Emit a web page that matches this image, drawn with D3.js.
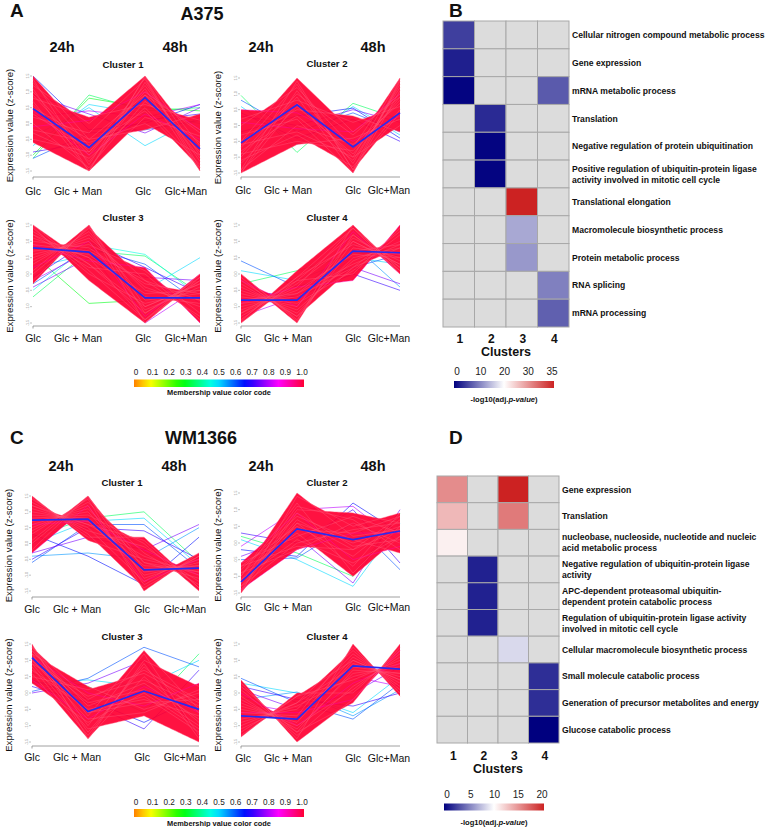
<!DOCTYPE html>
<html><head><meta charset="utf-8">
<script src="https://cdn.jsdelivr.net/npm/d3@7"></script>
<style>
body{margin:0;background:#fff;}
svg{display:block;font-family:"Liberation Sans",Arial,sans-serif;}
</style>
</head><body>
<svg id="c" width="770" height="827"></svg>
<script>
// ---------------- DATA ----------------
const timeLabels = ["Glc", "Glc + Man", "Glc", "Glc+Man"];
const hourLabels = ["24h", "48h"];
const yTicks = [-1.5, -1.0, -0.5, 0.0, 0.5, 1.0, 1.5];
const membershipTicks = [0, 0.1, 0.2, 0.3, 0.4, 0.5, 0.6, 0.7, 0.8, 0.9, 1.0];
const clusterNames = ["Cluster 1", "Cluster 2", "Cluster 3", "Cluster 4"];

// centroids: [Glc24, Glc+Man24, Glc48, Glc+Man48]
const a375Centroids = [
  [0.47, -0.76, 0.82, -0.8],
  [-0.55, 0.65, -0.68, 0.4],
  [0.8, 0.67, -0.73, -0.73],
  [-0.8, -0.8, 0.7, 0.65]
];
const wm1366Centroids = [
  [0.74, 0.77, -0.83, -0.78],
  [-1.17, 0.42, 0.1, 0.36],
  [1.08, -0.57, 0.06, -0.5],
  [-0.7, -0.8, 0.83, 0.73]
];

// gene profiles: [membership, Glc24, Glc+Man24, Glc48, Glc+Man48]
const a375Cluster1 = [
  [1,1.4,-1.3,1.45,-1.4],[1,1.1,-1.5,1.3,-1.2],[1,0.9,-1.0,1.1,-1.5],[1,0.6,-1.2,0.9,-0.9],
  [1,0.3,-0.8,1.2,-1.1],[1,0.0,-1.4,0.7,-0.6],[1,-0.3,-1.1,0.5,-1.3],[1,-0.6,-1.5,0.2,-0.4],
  [1,1.5,-0.5,0.9,-0.2],[1,1.2,0.0,1.5,-0.7],[1,0.8,0.2,0.6,0.1],[1,0.2,-0.3,1.4,-1.5],
  [1,-0.2,-0.6,0.0,-1.0],[1,0.5,-0.5,-0.2,0.3],[1,1.0,-0.9,1.0,-0.3],[1,0.7,-1.5,1.5,-1.0],
  [1,-0.5,-0.9,0.8,-0.8],[1,1.3,-0.7,0.4,-1.4],[0.9,0.4,-1.0,0.3,-0.5],[0.9,-0.1,0.1,1.0,-0.2],
  [0.7,-0.9,-0.6,0.1,0.3],[0.6,-1.1,-0.3,-0.2,0.1],[0.5,-0.7,0.6,0.3,0.0],[0.35,-1.1,0.9,0.4,0.5],
  [0.3,-1.0,0.8,0.5,0.4],[0.65,1.5,-0.2,0.0,0.6],[0.75,0.9,0.3,-0.3,0.5],[0.5,-0.4,0.5,-0.7,0.2],
  [0.8,0.2,0.4,0.2,0.6]
];
const a375Cluster2 = [
  [1,-1.4,1.4,-1.4,1.45],[1,-1.5,1.1,-1.2,1.3],[1,-1.0,0.9,-1.5,1.1],[1,-1.2,0.6,-0.9,0.9],
  [1,-0.8,0.3,-1.1,1.2],[1,-1.4,0.0,-0.6,0.7],[1,-1.1,-0.3,-1.3,0.5],[1,-1.5,-0.6,-0.4,0.2],
  [1,-0.5,1.5,-0.2,0.9],[1,0.0,1.2,-0.7,1.5],[1,0.2,0.8,0.1,0.6],[1,-0.3,0.2,-1.5,1.4],
  [1,-0.6,-0.2,-1.0,0.0],[1,-0.5,0.5,0.3,-0.2],[1,-0.9,1.0,-0.3,1.0],[1,-1.5,0.7,-1.0,1.5],
  [1,-0.9,-0.5,-0.8,0.8],[1,-0.7,1.3,-1.4,0.4],[0.9,0.5,0.4,-0.5,0.3],[0.9,0.1,-0.1,-0.2,1.0],
  [0.35,0.95,-0.85,0.7,0.2],[0.5,0.6,-0.6,0.6,-0.3],[0.7,0.4,-0.4,0.2,-0.5],[0.6,0.8,-0.2,0.4,-0.2],
  [0.75,0.3,0.0,0.5,0.1],[0.65,-0.2,0.3,0.55,-0.4]
];
const a375Cluster3 = [
  [1,1.5,0.1,-1.4,0.0],[1,1.3,0.3,-1.0,-0.3],[1,1.1,0.5,-0.6,-0.5],[1,0.9,0.7,-0.2,-0.8],
  [1,0.7,0.9,0.1,-1.2],[1,0.5,1.1,-0.4,-1.0],[1,0.3,1.3,-0.8,-0.6],[1,0.1,1.5,-1.2,-0.2],
  [1,-0.2,1.45,-1.5,0.0],[1,1.45,-0.2,-1.5,-0.1],[1,1.2,0.2,0.0,-1.4],[1,0.8,0.6,-0.7,-0.9],
  [1,1.0,0.8,-0.3,-0.6],[1,0.6,1.0,-1.1,-0.4],[1,0.4,1.2,-0.5,-0.8],[1,1.4,0.0,-0.9,-0.5],
  [1,-0.3,1.5,-1.0,-0.3],[1,1.5,0.3,-1.2,-0.1],[0.9,0.2,1.0,-1.3,0.0],[0.9,0.9,0.4,0.2,-1.5],
  [1,0.0,1.4,-0.2,-1.3],[1,1.2,0.5,-1.4,-0.2],
  [0.35,-0.7,0.7,0.55,-0.6],[0.3,0.6,-0.9,-0.8,-0.5],[0.45,-0.5,0.9,0.6,-0.7],[0.6,-0.3,0.8,0.3,-0.9],
  [0.7,-0.1,1.0,0.2,-0.6],[0.75,-0.4,0.5,-0.1,-0.2],[0.5,0.2,0.6,-0.5,0.5],[0.8,-0.2,0.7,-1.5,-0.4]
];
const a375Cluster4 = [
  [1,-1.5,-0.1,1.4,0.0],[1,-1.3,-0.3,1.0,0.3],[1,-1.1,-0.5,0.6,0.5],[1,-0.9,-0.7,0.2,0.8],
  [1,-0.7,-0.9,0.1,1.2],[1,-0.5,-1.1,0.4,1.0],[1,-0.3,-1.3,0.8,0.6],[1,-0.1,-1.5,1.2,0.2],
  [1,0.0,-1.45,1.5,0.0],[1,-1.45,0.1,1.5,0.1],[1,-1.2,-0.2,0.0,1.4],[1,-0.8,-0.6,0.7,0.9],
  [1,-1.0,-0.6,0.3,0.9],[1,-0.6,-1.0,1.1,0.4],[1,-0.4,-1.2,0.5,0.8],[1,-1.4,-0.1,0.9,0.5],
  [1,0.0,-1.4,1.0,0.3],[1,-1.5,-0.2,1.2,0.1],[0.9,-0.2,-1.0,1.3,0.0],[0.9,-0.9,-0.4,-0.2,1.5],
  [1,-0.2,-1.3,0.2,1.3],[1,-1.2,-0.4,1.4,0.2],
  [0.6,0.4,-0.4,0.2,0.6],[0.5,0.1,-0.2,0.5,0.3],[0.35,-0.3,0.1,0.6,0.8],[0.7,-0.5,-0.7,0.0,-0.5],
  [0.55,-1.0,-0.6,0.9,-0.4],[0.75,-0.8,-0.9,0.2,-0.3],[0.8,-1.3,-0.7,0.5,1.0]
];
const wm1366Cluster1 = [
  [1,1.45,0.2,0.2,-1.4],[1,1.3,0.4,-0.1,-1.2],[1,1.1,0.6,-0.4,-1.0],[1,0.9,0.8,-0.7,-0.8],
  [1,0.7,1.0,-1.0,-0.6],[1,0.5,1.2,-1.3,-0.4],[1,0.3,1.4,-1.5,-0.3],[1,0.1,1.5,-0.8,-0.7],
  [1,-0.2,1.5,-1.1,-0.5],[1,1.5,0.1,-0.5,-0.9],[1,1.2,0.5,-1.2,-0.3],[1,0.8,0.9,0.0,-1.5],
  [1,0.6,1.1,-0.6,-1.1],[1,1.0,0.7,-0.9,-0.7],[1,0.4,1.3,-0.3,-1.3],[1,1.4,0.3,-1.4,-0.4],
  [1,0.0,1.45,-0.6,-0.9],[1,1.2,0.6,0.1,-1.4],[0.9,-0.3,1.2,-1.2,-0.5],[0.9,0.6,0.7,-0.2,-1.0],
  [0.35,0.2,0.8,1.0,-0.6],[0.5,0.0,0.7,0.8,-0.7],[0.6,-0.6,0.6,0.6,-0.8],[0.7,-0.5,0.5,0.4,-0.5],
  [0.75,-0.3,0.2,-0.2,0.6],[0.55,-0.4,-0.3,-0.5,0.5],[0.65,0.3,-0.4,-1.3,0.2]
];
const wm1366Cluster2 = [
  [1,-1.5,1.4,0.5,0.9],[1,-1.4,1.0,0.9,0.6],[1,-1.3,0.7,-0.2,0.4],[1,-1.2,0.4,0.3,0.8],
  [1,-1.1,0.1,-0.6,0.2],[1,-1.0,1.2,-0.9,0.5],[1,-0.9,-0.2,0.6,0.0],[1,-0.8,0.8,0.1,-0.3],
  [1,-0.7,0.5,-0.4,0.7],[1,-0.6,0.2,0.8,0.3],[1,-1.45,0.9,-0.1,0.1],[1,-1.3,0.0,0.4,0.6],
  [1,-1.5,0.6,-0.7,0.9],[1,-1.0,1.5,0.2,0.4],[1,-0.9,0.3,-1.0,0.2],[1,-1.2,1.1,0.7,-0.2],
  [1,-0.7,-0.1,-0.2,0.8],[1,-1.1,0.6,0.0,0.5],[0.9,-0.6,0.9,-0.5,-0.1],[0.9,-1.4,-0.2,0.3,0.3],
  [0.35,0.2,-0.3,-1.0,0.9],[0.5,0.1,-0.5,-1.3,0.6],[0.65,-0.2,-0.4,1.2,0.3],[0.7,0.3,0.0,1.0,-0.6],
  [0.75,-0.4,0.2,-1.2,1.0],[0.6,-0.5,-0.45,0.6,-0.8],[0.8,-0.1,1.0,1.1,0.0]
];
const wm1366Cluster3 = [
  [1,1.5,-1.4,0.5,-0.9],[1,1.4,-1.0,1.2,-1.3],[1,1.3,-0.6,-0.3,-0.2],[1,1.2,-1.2,0.8,-0.6],
  [1,1.1,-0.3,0.1,-1.0],[1,1.0,-0.8,-0.6,0.1],[1,0.9,-0.1,0.4,-0.4],[1,0.8,-1.3,0.9,-1.4],
  [1,0.7,-0.5,-0.2,-0.7],[1,0.5,0.1,0.6,-0.3],[1,0.3,-0.9,0.0,-1.1],[1,1.45,-0.7,1.3,-0.5],
  [1,1.2,0.2,-0.5,0.0],[1,0.9,-1.1,-0.7,-1.5],[1,1.3,-0.4,0.3,-0.8],[1,0.6,-1.4,1.0,0.2],
  [1,1.0,-0.6,-0.1,-1.2],[1,1.4,-0.2,0.7,-0.2],[0.9,0.4,-0.8,0.2,-0.6],[0.9,1.1,0.0,-0.4,0.3],
  [0.6,0.05,0.45,1.4,0.8],[0.7,0.2,-0.3,-1.1,0.7],[0.5,0.3,0.4,0.2,1.0],[0.75,0.0,0.3,1.0,-1.3],
  [0.35,0.6,0.2,-0.6,1.2],[0.65,0.4,-0.2,-0.9,-0.1]
];
const wm1366Cluster4 = [
  [1,0.4,-1.5,-0.2,1.4],[1,0.1,-1.3,0.2,1.1],[1,-0.2,-1.1,0.6,0.8],[1,-0.4,-0.9,1.0,0.4],
  [1,-0.6,-0.7,1.4,0.0],[1,-0.8,-0.5,1.2,0.2],[1,-1.0,-0.3,0.8,0.6],[1,-1.2,-0.1,0.4,1.0],
  [1,-1.35,0.0,0.0,1.3],[1,0.3,-1.4,1.5,-0.1],[1,-0.1,-1.2,-0.3,1.5],[1,-0.5,-0.8,0.9,0.5],
  [1,-0.7,-0.8,1.1,0.3],[1,-0.9,-0.4,0.5,0.9],[1,-1.1,-0.3,1.3,0.1],[1,-0.3,-1.0,0.1,1.2],
  [1,0.2,-1.2,0.7,0.6],[1,-1.3,-0.1,1.0,0.4],[0.9,0.0,-1.0,0.3,0.9],[0.9,-0.6,-0.6,-0.2,1.3],
  [0.6,0.45,-0.3,-0.8,0.3],[0.5,0.3,0.0,-0.6,0.5],[0.7,0.2,-0.2,-0.4,0.0],[0.55,-0.2,0.03,-0.7,0.1],
  [0.75,0.1,-0.5,0.0,0.8],[0.8,-0.3,-0.6,0.5,0.2]
];

// GO enrichment heatmaps: -log10(adj. p-value), null = not enriched
const clusterIds = ["1", "2", "3", "4"];
const a375Terms = [
  "Cellular nitrogen compound metabolic process",
  "Gene expression",
  "mRNA metabolic process",
  "Translation",
  "Negative regulation of protein ubiquitination",
  "Positive regulation of ubiquitin-protein ligase\nactivity involved in mitotic cell cycle",
  "Translational elongation",
  "Macromolecule biosynthetic process",
  "Protein metabolic process",
  "RNA splicing",
  "mRNA processing"
];
const a375Enrichment = [
  [4.3, null, null, null],
  [2.1, null, null, null],
  [0.3, null, null, 6.2],
  [null, 2.9, null, null],
  [null, 0.3, null, null],
  [null, 0.3, null, null],
  [null, null, 35, null],
  [null, null, 11.5, null],
  [null, null, 10.4, null],
  [null, null, null, 8.8],
  [null, null, null, 6.6]
];
const a375LegendTicks = [0, 10, 20, 30, 35];

const wm1366Terms = [
  "Gene expression",
  "Translation",
  "nucleobase, nucleoside, nucleotide and nucleic\nacid metabolic process",
  "Negative regulation of ubiquitin-protein ligase\nactivity",
  "APC-dependent proteasomal ubiquitin-\ndependent protein catabolic process",
  "Regulation of ubiquitin-protein ligase activity\ninvolved in mitotic cell cycle",
  "Cellular macromolecule biosynthetic process",
  "Small molecule catabolic process",
  "Generation of precursor metabolites and energy",
  "Glucose catabolic process"
];
const wm1366Enrichment = [
  [15.2, null, 20, null],
  [13.2, null, 16, null],
  [10.7, null, null, null],
  [null, 1.3, null, null],
  [null, 1.3, null, null],
  [null, 1.3, null, null],
  [null, null, 8.5, null],
  [null, null, null, 1.8],
  [null, null, null, 1.8],
  [null, null, null, 0]
];
const wm1366LegendTicks = [0, 5, 10, 15, 20];

// ---------------- DRAWING ----------------
const svg = d3.select("#c");
const memColor = m => d3.hsl(30 + 318 * m, 1, 0.5).toString();
const BOLD = "bold";

function text(g, x, y, s, size, opts = {}) {
  return g.append("text").attr("x", x).attr("y", y).text(s)
    .attr("font-size", size)
    .attr("font-weight", opts.weight || "normal")
    .attr("text-anchor", opts.anchor || "middle")
    .attr("fill", opts.fill || "#111");
}

function profilePlot(cfg, profiles, centroid, title) {
  const g = svg.append("g");
  const offs = cfg.offs;
  const x = d3.scaleLinear().domain([0, 1, 2, 3]).range(offs.map(o => cfg.x0 + o));
  const y = d3.scaleLinear().domain([-1.5, 1.5]).range([cfg.yBot, cfg.yTop]);
  const line = d3.line().x((d, i) => x(i)).y(d => y(d));

  // low-membership genes first (drawn underneath)
  const low = profiles.filter(p => p[0] < 0.85).sort((a, b) => a[0] - b[0]);
  g.selectAll("path.low").data(low).join("path").attr("class", "low")
    .attr("d", p => line(p.slice(1)))
    .attr("fill", "none").attr("stroke", p => memColor(p[0]))
    .attr("stroke-width", 0.8).attr("stroke-opacity", 0.75);

  // dense mass of high-membership genes
  const core = profiles.filter(p => p[0] >= 0.85);
  const env = [];
  for (let s = 0; s < 3; s++) {
    for (let k = 0; k <= 24; k++) {
      if (s > 0 && k === 0) continue;
      const t = k / 24;
      const vals = core.map(p => p[1 + s] * (1 - t) + p[2 + s] * t);
      env.push({ xi: s + t, lo: d3.min(vals), hi: d3.max(vals) });
    }
  }
  g.append("path").datum(env)
    .attr("d", d3.area().x(d => x(d.xi)).y0(d => y(d.lo)).y1(d => y(d.hi)))
    .attr("fill", memColor(1)).attr("fill-opacity", 0.93);
  g.selectAll("path.core").data(core.slice().sort((a, b) => a[0] - b[0])).join("path").attr("class", "core")
    .attr("d", p => line(p.slice(1)))
    .attr("fill", "none").attr("stroke", p => p[0] >= 1 ? "#ff5a7a" : memColor(p[0]))
    .attr("stroke-width", 0.6).attr("stroke-opacity", 0.7);

  g.append("path").attr("d", line(centroid))
    .attr("fill", "none").attr("stroke", "#2a2af0").attr("stroke-width", 1.7);

  // y axis (tiny ticks)
  yTicks.forEach(v => {
    g.append("line").attr("x1", cfg.x0 - 3).attr("x2", cfg.x0 - 1)
      .attr("y1", y(v)).attr("y2", y(v)).attr("stroke", "#999").attr("stroke-width", 0.6);
    g.append("text").attr("transform", `translate(${cfg.x0 - 4},${y(v)}) rotate(-90)`)
      .attr("text-anchor", "middle").attr("font-size", 3.6).attr("fill", "#888")
      .text(v.toFixed(1));
  });
  g.append("text")
    .attr("transform", `translate(${cfg.x0 - 20},${(cfg.yTop + cfg.yBot) / 2 + 2}) rotate(-90)`)
    .attr("text-anchor", "middle").attr("font-size", 9.6).attr("fill", "#111")
    .text("Expression value (z-score)");

  // x axis
  g.append("line").attr("x1", x(0)).attr("x2", x(3)).attr("y1", cfg.axisY).attr("y2", cfg.axisY)
    .attr("stroke", "#888").attr("stroke-width", 0.8);
  g.append("line").attr("x1", x(0)).attr("x2", x(0)).attr("y1", cfg.axisY).attr("y2", cfg.axisY + 2.5)
    .attr("stroke", "#888").attr("stroke-width", 0.8);
  timeLabels.forEach((s, i) => text(g, cfg.x0 + cfg.labOffs[i], cfg.labelY, s, 10.5));

  text(g, cfg.x0 + cfg.titleDx, cfg.titleY, title, 9.6, { weight: BOLD });
  if (cfg.hourY) {
    text(g, cfg.x0 + cfg.hDx[0], cfg.hourY, hourLabels[0], 14.5, { weight: BOLD });
    text(g, cfg.x0 + cfg.hDx[1], cfg.hourY, hourLabels[1], 14.5, { weight: BOLD });
  }
}

const L = { hDx: [29, 142], titleDx: 90, offs: [0, 56, 112, 167], labOffs: [0, 45, 110, 153] };
const R = { hDx: [20, 132], titleDx: 86, offs: [0, 56, 112, 159], labOffs: [2, 47, 112, 148] };
profilePlot({ ...L, x0: 33, yTop: 76, yBot: 171, axisY: 177, labelY: 195, titleY: 67.5, hourY: 52 }, a375Cluster1, a375Centroids[0], clusterNames[0]);
profilePlot({ ...R, x0: 241, yTop: 78, yBot: 173, axisY: 177, labelY: 194, titleY: 67, hourY: 52 }, a375Cluster2, a375Centroids[1], clusterNames[1]);
profilePlot({ ...L, x0: 33, yTop: 225, yBot: 323, axisY: 326, labelY: 342, titleY: 220.5 }, a375Cluster3, a375Centroids[2], clusterNames[2]);
profilePlot({ ...R, x0: 241, yTop: 225, yBot: 323, axisY: 326, labelY: 342, titleY: 220.5 }, a375Cluster4, a375Centroids[3], clusterNames[3]);
profilePlot({ ...L, x0: 32, yTop: 496, yBot: 591, axisY: 597, labelY: 613, titleY: 485.5, hourY: 471 }, wm1366Cluster1, wm1366Centroids[0], clusterNames[0]);
profilePlot({ ...R, x0: 241, yTop: 493, yBot: 593, axisY: 597, labelY: 611, titleY: 485.5, hourY: 471 }, wm1366Cluster2, wm1366Centroids[1], clusterNames[1]);
profilePlot({ ...L, x0: 32, yTop: 644, yBot: 742, axisY: 746, labelY: 761, titleY: 639.5 }, wm1366Cluster3, wm1366Centroids[2], clusterNames[2]);
profilePlot({ ...R, x0: 241, yTop: 644, yBot: 742, axisY: 746, labelY: 762, titleY: 639.5 }, wm1366Cluster4, wm1366Centroids[3], clusterNames[3]);

// membership legends
const defs = svg.append("defs");
const mg = defs.append("linearGradient").attr("id", "memgrad");
d3.range(0, 1.0001, 0.05).forEach(m => mg.append("stop").attr("offset", m).attr("stop-color", memColor(m)));
function memLegend(yNum, yBar, h, yText) {
  const xs = d3.scaleLinear().domain([0, 1]).range([136, 302]);
  svg.append("rect").attr("x", 134).attr("y", yBar).attr("width", 170).attr("height", h).attr("fill", "url(#memgrad)");
  membershipTicks.forEach(m => text(svg, xs(m), yNum, m === 0 ? "0" : m.toFixed(1), 8.2, { fill: "#222" }));
  text(svg, 219, yText, "Membership value color code", 7.4, { weight: BOLD });
}
memLegend(375, 379.5, 7.5, 395);
memLegend(805, 809, 8, 826);

// panel letters / titles
text(svg, 10, 17, "A", 19, { weight: BOLD, anchor: "start" });
text(svg, 202, 20, "A375", 18, { weight: BOLD });
text(svg, 449, 17, "B", 19, { weight: BOLD, anchor: "start" });
text(svg, 10, 444, "C", 19, { weight: BOLD, anchor: "start" });
text(svg, 201, 444, "WM1366", 18, { weight: BOLD });
text(svg, 449, 444, "D", 19, { weight: BOLD, anchor: "start" });

// heatmaps
function heatmap(cfg, terms, values, ticks, maxV, midV) {
  const g = svg.append("g");
  const xb = d3.scaleBand().domain(clusterIds).range([cfg.x0, cfg.x1]);
  const yb = d3.scaleBand().domain(d3.range(terms.length)).range([cfg.y0, cfg.y1]);
  const col = d3.scaleLinear().domain([0, midV, maxV]).range(["#00007f", "#ffffff", "#cc2222"]);
  values.forEach((row, r) => row.forEach((v, c) => {
    g.append("rect").attr("x", xb(clusterIds[c])).attr("y", yb(r))
      .attr("width", xb.bandwidth()).attr("height", yb.bandwidth())
      .attr("fill", v === null ? "#dcdcdc" : col(v))
      .attr("stroke", "#a8a8a8").attr("stroke-width", 1);
  }));
  terms.forEach((t, r) => {
    const lines = t.split("\n");
    const cy = yb(r) + yb.bandwidth() / 2;
    lines.forEach((s, k) => {
      text(g, cfg.x1 + 3, cy + 3.2 + (k - (lines.length - 1) / 2) * 11, s, 8.6, { weight: BOLD, anchor: "start" });
    });
  });
  clusterIds.forEach(c => text(g, xb(c) + xb.bandwidth() / 2 + 1, cfg.numY, c, 12, { weight: BOLD }));
  text(g, (cfg.x0 + cfg.x1) / 2, cfg.clY, "Clusters", 12.5, { weight: BOLD });
  // colour legend
  const gid = "hg" + cfg.x0;
  const gr = defs.append("linearGradient").attr("id", gid);
  d3.range(0, 1.0001, 0.05).forEach(f => gr.append("stop").attr("offset", f).attr("stop-color", col(f * maxV)));
  const ls = d3.scalePoint().domain(ticks).range([cfg.lx0 + 3, cfg.lx0 + 98]);
  g.append("rect").attr("x", cfg.lx0).attr("y", cfg.barY).attr("width", 100).attr("height", 7).attr("fill", `url(#${gid})`);
  ticks.forEach(v => text(g, ls(v), cfg.barY - 6, String(v), 10, { fill: "#222" }));
  const lt = text(g, cfg.lx0 + 50, cfg.barY + 21, "", 7.6, { weight: BOLD });
  lt.append("tspan").text("-log10(adj.");
  lt.append("tspan").attr("font-style", "italic").text("p-value");
  lt.append("tspan").text(")");
}
heatmap({ x0: 443, x1: 569, y0: 21, y1: 327, numY: 343, clY: 356, lx0: 454, barY: 381 },
  a375Terms, a375Enrichment, a375LegendTicks, 35, 17.5);
heatmap({ x0: 437, x1: 559, y0: 476, y1: 743, numY: 760, clY: 773, lx0: 444, barY: 803.5 },
  wm1366Terms, wm1366Enrichment, wm1366LegendTicks, 20, 10);
</script>
</body></html>
